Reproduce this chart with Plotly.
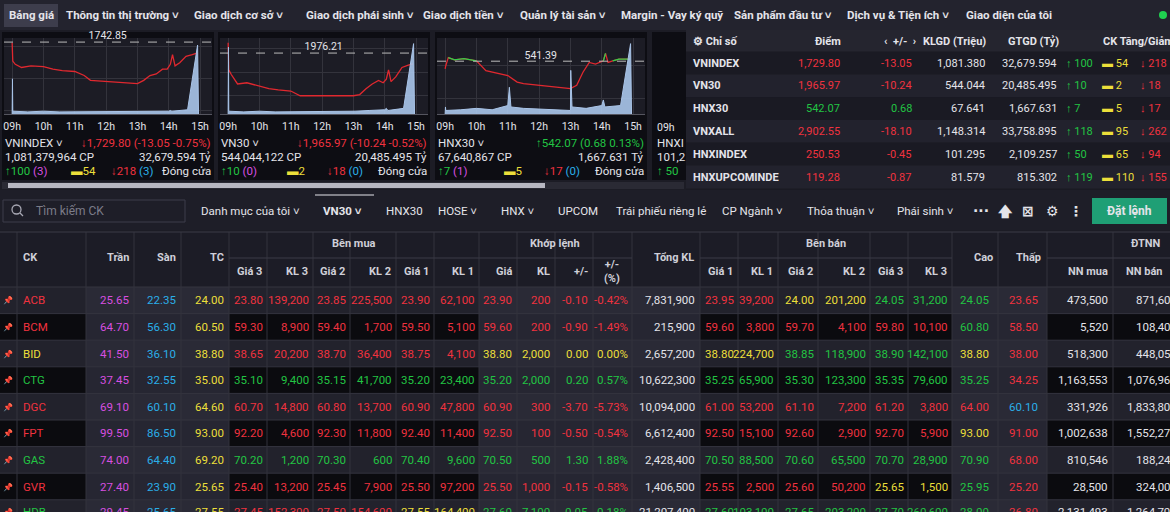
import plotly.graph_objects as go

W, H = 1170, 512

# ---------------- data ----------------
nav_items = ["Bảng giá", "Thông tin thị trường ˅", "Giao dịch cơ sở ˅", "Giao dịch phái sinh ˅",
             "Giao dịch tiền ˅", "Quản lý tài sản ˅", "Margin - Vay ký quỹ", "Sản phẩm đầu tư ˅",
             "Dịch vụ & Tiện ích ˅", "Giao diện của tôi"]

hours = [9, 10, 11, 12, 13, 14, 15]
hour_labels = ["09h", "10h", "11h", "12h", "13h", "14h", "15h"]

t_line = [9.0, 9.02, 9.1, 9.3, 9.6, 10.0, 10.3, 10.6, 11.0, 11.3, 11.5, 13.0, 13.2, 13.4,
          13.6, 13.8, 13.95, 14.05, 14.12, 14.2, 14.35, 14.55, 14.75, 14.9]
vnindex_line = [1742.5, 1731, 1729, 1727, 1728, 1727.5, 1726, 1725, 1724.5, 1722, 1719, 1717,
                1719, 1722, 1723, 1726, 1726, 1729, 1735, 1728, 1730, 1734, 1735, 1736]
vn30_line = [1985, 1962, 1958, 1950, 1951, 1948, 1946, 1945, 1944, 1940, 1940, 1940, 1941,
             1946, 1950, 1953, 1951, 1954, 1962, 1952, 1956, 1964, 1966, 1967]
hnx30_line = [539, 540, 542.5, 541.8, 542.2, 541.5, 538.5, 537.8, 537, 535, 534.5, 533, 534,
              538, 541, 540.5, 541, 541.5, 543.8, 541, 541.5, 542, 542, 542]

t_vol = [9.0, 9.01, 9.02, 9.5, 10.0, 10.5, 11.0, 11.05, 11.1, 11.5, 13.0, 13.01, 13.05, 13.5,
         14.0, 14.05, 14.1, 14.6, 14.92, 14.95]
vnindex_vol = [0, 0.5, 0.04, 0.03, 0.04, 0.03, 0.03, 0.03, 0.03, 0.03, 0.03, 0.03, 0.03, 0.04,
               0.04, 0.05, 0.04, 0.06, 0.98, 0]
vn30_vol = [0, 0.95, 0.04, 0.03, 0.04, 0.03, 0.03, 0.03, 0.03, 0.03, 0.03, 0.04, 0.04, 0.05,
            0.06, 0.08, 0.05, 0.08, 1.0, 0]
hnx30_vol = [0, 0.1, 0.05, 0.06, 0.08, 0.06, 0.12, 0.38, 0.1, 0.08, 0.05, 0.62, 0.1, 0.08,
             0.12, 0.2, 0.1, 0.12, 1.0, 0]

mini_names = ["VNINDEX ˅", "VN30 ˅", "HNX30 ˅"]
mini_refs = [1742.85, 1976.21, 541.39]
mini_ranges = [[1698, 1745.4], [1924.5, 1989], [525.2, 548.5]]
mini_last = ["↓1,729.80 (-13.05 -0.75%)", "↓1,965.97 (-10.24 -0.52%)", "↑542.07 (0.68 0.13%)"]
mini_up = [False, False, True]
mini_cp = ["1,081,379,964 CP", "544,044,122 CP", "67,640,867 CP"]
mini_value = ["32,679.594 Tỷ", "20,485.495 Tỷ", "1,667.631 Tỷ"]
mini_adv = ["100", "10", "7"]
mini_adv_c = ["(3)", "(0)", "(1)"]
mini_unch = ["54", "2", "5"]
mini_dec = ["218", "18", "17"]
mini_dec_f = ["(3)", "(0)", "(0)"]

idx_names = ["VNINDEX", "VN30", "HNX30", "VNXALL", "HNXINDEX", "HNXUPCOMINDE"]
idx_points = ["1,729.80", "1,965.97", "542.07", "2,902.55", "250.53", "119.28"]
idx_chg = [-13.05, -10.24, 0.68, -18.10, -0.45, -0.87]
idx_klgd = ["1,081.380", "544.044", "67.641", "1,148.314", "101.295", "81.579"]
idx_gtgd = ["32,679.594", "20,485.495", "1,667.631", "33,758.895", "2,109.257", "815.302"]
idx_adv = [100, 10, 7, 118, 50, 119]
idx_unch = [54, 2, 5, 95, 65, 110]
idx_dec = [218, 18, 17, 262, 94, 155]

tabs = ["Danh mục của tôi ˅", "VN30 ˅", "HNX30", "HOSE ˅", "HNX ˅", "UPCOM",
        "Trái phiếu riêng lẻ", "CP Ngành ˅", "Thỏa thuận ˅", "Phái sinh ˅"]

symbols = ["ACB", "BCM", "BID", "CTG", "DGC", "FPT", "GAS", "GVR", "HDB"]
ceil_p = [25.65, 64.70, 41.50, 37.45, 69.10, 99.50, 74.00, 27.40, 29.45]
floor_p = [22.35, 56.30, 36.10, 32.55, 60.10, 86.50, 64.40, 23.90, 25.65]
ref_p = [24.00, 60.50, 38.80, 35.00, 64.60, 93.00, 69.20, 25.65, 27.55]
bid3_p = [23.80, 59.30, 38.65, 35.10, 60.70, 92.20, 70.20, 25.40, 27.45]
bid3_v = ["139,200", "8,900", "20,200", "9,400", "14,800", "4,600", "1,200", "13,200", "152,300"]
bid2_p = [23.85, 59.40, 38.70, 35.15, 60.80, 92.30, 70.30, 25.45, 27.50]
bid2_v = ["225,500", "1,700", "36,400", "41,700", "13,700", "11,800", "600", "7,900", "154,600"]
bid1_p = [23.90, 59.50, 38.75, 35.20, 60.90, 92.40, 70.40, 25.50, 27.55]
bid1_v = ["62,100", "5,100", "4,100", "23,400", "47,800", "11,400", "9,600", "97,200", "164,400"]
match_p = [23.90, 59.60, 38.80, 35.20, 60.90, 92.50, 70.50, 25.50, 27.60]
match_v = ["200", "200", "2,000", "2,000", "300", "100", "500", "1,000", "7,100"]
chg = ["-0.10", "-0.90", "0.00", "0.20", "-3.70", "-0.50", "1.30", "-0.15", "0.05"]
pct = ["-0.42%", "-1.49%", "0.00%", "0.57%", "-5.73%", "-0.54%", "1.88%", "-0.58%", "0.18%"]
total_kl = ["7,831,900", "215,900", "2,657,200", "10,622,300", "10,094,000", "6,612,400",
            "2,428,400", "1,406,500", "21,207,400"]
ask1_p = [23.95, 59.60, 38.80, 35.25, 61.00, 92.50, 70.50, 25.55, 27.60]
ask1_v = ["39,200", "3,800", "224,700", "65,900", "53,200", "15,100", "88,500", "2,500", "103,100"]
ask2_p = [24.00, 59.70, 38.85, 35.30, 61.10, 92.60, 70.60, 25.60, 27.65]
ask2_v = ["201,200", "4,100", "118,900", "123,300", "7,200", "2,900", "65,500", "50,200", "203,200"]
ask3_p = [24.05, 59.80, 38.90, 35.35, 61.20, 92.70, 70.70, 25.65, 27.70]
ask3_v = ["31,200", "10,100", "142,100", "79,600", "3,800", "5,900", "28,900", "1,500", "260,600"]
high_p = [24.05, 60.80, 38.80, 35.25, 64.00, 93.00, 70.90, 25.95, 28.00]
low_p = [23.65, 58.50, 38.00, 34.25, 60.10, 91.00, 68.00, 25.20, 26.80]
nn_buy = ["473,500", "5,520", "518,300", "1,163,553", "331,926", "1,002,638", "810,546",
          "28,500", "2,131,493"]
nn_sell = ["871,600", "108,400", "448,050", "1,076,960", "1,833,800", "1,552,270", "188,240",
           "324,000", "1,264,700"]

# ---------------- styles ----------------
RED, GREEN, YEL, PUR, BLUE = "#f0323f", "#22c443", "#ecdf3a", "#d84fe0", "#2aaee8"
WHITE, GREY = "#e4e4ea", "#a8a8b4"
BG, PANEL, ROW_A, ROW_B = "#1c1c25", "#0d0d13", "#22222c", "#0b0b0f"
FONT = "Roboto, sans-serif"
FS = 11.5
XR = [8.74, 15.38]

fig = go.Figure()
shapes, ann = [], []


def rect(x0, y0, x1, y1, fill, line=None, layer="below"):
    shapes.append(dict(type="rect", xref="x", yref="y", x0=x0, y0=y0, x1=x1, y1=y1,
                       fillcolor=fill, line=dict(width=1 if line else 0, color=line or fill),
                       layer=layer))


def vline(x, y0, y1, c="#363644"):
    shapes.append(dict(type="line", xref="x", yref="y", x0=x, x1=x, y0=y0, y1=y1,
                       line=dict(color=c, width=1), layer="below"))


def hline(y, x0, x1, c="#363644"):
    shapes.append(dict(type="line", xref="x", yref="y", x0=x0, x1=x1, y0=y, y1=y,
                       line=dict(color=c, width=1), layer="below"))


def txt(x, y, s, color=WHITE, anchor="right", size=FS, bold=False, family=FONT, xshift=0):
    if bold:
        s = "<b>" + s + "</b>"
    ann.append(dict(x=x, y=min(y, H - 0.5), xref="x", yref="y", text=s, showarrow=False,
                    xanchor=anchor, yanchor="middle", xshift=xshift,
                    font=dict(color=color, size=size, family=family), borderpad=0))


def pcol(p, i):
    if p == ceil_p[i]:
        return PUR
    if p == floor_p[i]:
        return BLUE
    if p == ref_p[i]:
        return YEL
    return GREEN if p > ref_p[i] else RED


# ---------------- top nav ----------------
rect(0, 0, W, 30, "#23232e")
rect(4, 4, 58, 27, "#3d3d4c")
nav_x = [8, 65, 193, 305, 422, 519, 620, 733, 846, 965]
for x, s in zip(nav_x, nav_items):
    txt(x, 15, s, WHITE, "left", 11.5, True)
shapes.append(dict(type="circle", xref="x", yref="y", x0=1159, x1=1167, y0=11, y1=19,
                   fillcolor="#1fd150", line=dict(width=0)))

# ---------------- mini charts ----------------
panel_x = [2, 218, 435, 652]
for px in panel_x:
    rect(px, 32, px + 212, 180, PANEL)
rect(2, 182, 684, 189, "#2a2a34")
rect(8, 183, 545, 188, "#b8b8c2")

lines = [vnindex_line, vn30_line, hnx30_line]
vols = [vnindex_vol, vn30_vol, hnx30_vol]
for k in range(3):
    x0 = panel_x[k] + 2
    x1 = x0 + 208
    dom_x = [x0 / W, x1 / W]
    dom_y = [1 - 114 / H, 1 - 38 / H]
    la, va = k * 2 + 2, k * 2 + 3
    fig.add_trace(go.Scatter(x=t_vol, y=vols[k], mode="lines", fill="tozeroy",
                             line=dict(color="#a9c4e8", width=1), fillcolor="rgba(170,198,235,0.9)",
                             xaxis="x%d" % va, yaxis="y%d" % va, hoverinfo="skip"))
    ref = mini_refs[k]
    fig.add_trace(go.Scatter(x=t_line, y=lines[k], mode="lines", line=dict(color="#e0282f", width=1.3),
                             xaxis="x%d" % la, yaxis="y%d" % la, hoverinfo="skip"))
    greens = [v if v >= ref else None for v in lines[k]]
    fig.add_trace(go.Scatter(x=t_line, y=greens, mode="lines", line=dict(color="#2fd04a", width=1.3),
                             xaxis="x%d" % la, yaxis="y%d" % la, hoverinfo="skip", connectgaps=False))
    fig.add_trace(go.Scatter(x=XR, y=[ref, ref], mode="lines",
                             line=dict(color="#bbbbbb", width=1, dash="dash"),
                             xaxis="x%d" % la, yaxis="y%d" % la, hoverinfo="skip"))
    fig.add_trace(go.Scatter(x=[12.05], y=[ref], mode="text", text=[f"{ref:.2f}"],
                             textposition="top center", textfont=dict(color=WHITE, size=10.5, family=FONT),
                             xaxis="x%d" % la, yaxis="y%d" % la, hoverinfo="skip", cliponaxis=False))
    ax = dict(domain=dom_x, range=XR, tickvals=hours, ticktext=hour_labels,
              showgrid=True, gridcolor="#33333c", zeroline=False, showline=True, linecolor="#55555f",
              tickfont=dict(color=WHITE, size=10.5, family=FONT), ticks="", ticklabelstandoff=2)
    fig.layout["xaxis%d" % la] = dict(ax, anchor="y%d" % la)
    fig.layout["yaxis%d" % la] = dict(domain=dom_y, range=mini_ranges[k], showticklabels=False,
                                       showgrid=True, gridcolor="#33333c", nticks=4, zeroline=False,
                                       anchor="x%d" % la)
    fig.layout["xaxis%d" % va] = dict(domain=dom_x, range=XR, visible=False,
                                       anchor="y%d" % va, overlaying="x%d" % la)
    fig.layout["yaxis%d" % va] = dict(domain=dom_y, range=[0, 1.08], visible=False,
                                       anchor="x%d" % va, overlaying="y%d" % la)
    cc = GREEN if mini_up[k] else RED
    txt(x0, 143, mini_names[k], WHITE, "left", 11.5)
    txt(x1, 143, mini_last[k], cc, "right", 11.5)
    txt(x0, 157, mini_cp[k], WHITE, "left", 11.5)
    txt(x1, 157, mini_value[k], WHITE, "right", 11.5)
    txt(x0, 171, f"<span style='color:{GREEN}'>↑{mini_adv[k]}</span>"
                 f"<span style='color:{PUR}'> {mini_adv_c[k]}</span>", WHITE, "left", 11.5)
    txt(x0 + 66, 171, f"▬{mini_unch[k]}", YEL, "left", 11.5)
    txt(x0 + 106, 171, f"<span style='color:{RED}'>↓{mini_dec[k]}</span>"
                       f"<span style='color:{BLUE}'> {mini_dec_f[k]}</span>", WHITE, "left", 11.5)
    txt(x1, 171, "Đóng cửa", WHITE, "right", 11.5)
# partial 4th panel
txt(656, 127, "09h", WHITE, "left", 10.5)
txt(656, 143, "HNXI", WHITE, "left", 11.5)
txt(656, 157, "101,2", WHITE, "left", 11.5)
txt(656, 171, "↑ 50", GREEN, "left", 11.5)

# ---------------- index table ----------------
rect(686, 30, W, 190, "#1a1a23")
rect(686, 30, W, 52, "#25252f")
IF = 11
txt(692, 41, "⚙ Chỉ số", WHITE, "left", IF, True)
txt(842, 41, "Điểm", WHITE, "right", IF, True)
txt(900, 41, "‹  +/-  ›", WHITE, "center", IF, True)
txt(987, 41, "KLGD (Triệu)", WHITE, "right", IF, True)
txt(1060, 41, "GTGD (Tỷ)", WHITE, "right", IF, True)
txt(1102, 41, "CK Tăng/Giảm", WHITE, "left", IF, True)
for i, name in enumerate(idx_names):
    y = 63 + i * 22.8
    rect(686, y - 11.4, W, y + 11.4, "#22222d" if i % 2 else "#1a1a23")
    c = GREEN if idx_chg[i] > 0 else RED
    txt(692, y, name, WHITE, "left", IF, True)
    txt(841, y, idx_points[i], c, "right", IF)
    txt(913, y, f"{idx_chg[i]:.2f}", c, "right", IF)
    txt(986, y, idx_klgd[i], WHITE, "right", IF)
    txt(1058, y, idx_gtgd[i], WHITE, "right", IF)
    txt(1065, y, f"↑ {idx_adv[i]}", GREEN, "left", IF)
    txt(1101, y, f"▬ {idx_unch[i]}", YEL, "left", IF)
    txt(1139, y, f"↓ {idx_dec[i]}", RED, "left", IF)

# ---------------- tab bar ----------------
rect(0, 190, W, 230, "#1e1e28")
rect(3, 200, 185, 222, "#1e1e28", "#3c3c4a")
shapes.append(dict(type="circle", xref="x", yref="y", x0=12, x1=21, y0=205, y1=214,
                   line=dict(color=GREY, width=1.3)))
shapes.append(dict(type="line", xref="x", yref="y", x0=20, x1=23, y0=213, y1=216,
                   line=dict(color=GREY, width=1.3)))
txt(35, 211, "Tìm kiếm CK", "#7c7c88", "left", 12)
tab_x = [200, 322, 385, 437, 500, 557, 615, 721, 806, 896]
for x, s in zip(tab_x, tabs):
    txt(x, 211, s, WHITE, "left", 11.5, s.startswith("VN30"))
hline(195, 315, 374, WHITE)
for x, s in zip([981, 1005, 1028, 1052, 1076], ["···", "🡅", "⊠", "⚙", "⋮"]):
    txt(x, 211, s, WHITE, "center", 14, True, "DejaVu Sans")
rect(1092, 198, 1167, 224, "#1f9f75")
txt(1129, 211, "Đặt lệnh", WHITE, "center", 12, True)

# ---------------- main table ----------------
edges = [0, 17, 86, 134, 181, 229, 267, 313, 350, 396, 434, 479, 517, 555, 593, 632, 700,
         738, 778, 818, 870, 908, 952, 998, 1047, 1113, 1175]
light_cols = {2, 3, 4, 11, 12, 13, 14, 15, 22, 23}
rect(0, 232, W, 287, "#1c1c26")
row_h = 26.6
for r in range(len(symbols)):
    y0 = 287 + r * row_h
    for c in range(len(edges) - 1):
        if c in light_cols:
            f = "#2a2a36" if r % 2 == 0 else "#262632"
        else:
            f = ROW_A if r % 2 == 0 else ROW_B
        rect(edges[c], y0, edges[c + 1], y0 + row_h, f)
    hline(y0, 0, W, "#34343f")
for e in edges[1:-1]:
    vline(e, 232, H, "#32323d")
hline(258, 229, 632, "#3a3a46")
hline(258, 700, 952, "#3a3a46")
hline(258, 1047, W, "#3a3a46")
hline(232, 0, W, "#3a3a46")

hc = "#cfcfd8"
HF = 11
txt(354, 243, "Bên mua", hc, "center", HF, True)
txt(555, 243, "Khớp lệnh", hc, "center", HF, True)
txt(826, 243, "Bên bán", hc, "center", HF, True)
txt(1146, 243, "ĐTNN", hc, "center", HF, True)
txt(22, 257, "CK", hc, "left", HF, True)
for x, s in zip([130, 177, 225, 695, 994, 1042], ["Trần", "Sàn", "TC", "Tổng KL", "Cao", "Thấp"]):
    txt(x, 257, s, hc, "right", HF, True)
sub = ["Giá 3", "KL 3", "Giá 2", "KL 2", "Giá 1", "KL 1", "Giá", "KL", "+/-"]
for j, s in enumerate(sub):
    txt(edges[5 + j + 1] - 4, 271, s, hc, "right", HF, True)
txt(612, 271, "+/-<br>(%)", hc, "center", HF, True)
sub2 = ["Giá 1", "KL 1", "Giá 2", "KL 2", "Giá 3", "KL 3"]
for j, s in enumerate(sub2):
    txt(edges[16 + j + 1] - 4, 271, s, hc, "right", HF, True)
txt(1109, 271, "NN mua", hc, "right", HF, True)
txt(1125, 271, "NN bán", hc, "left", HF, True)

for i, sym in enumerate(symbols):
    y = 287 + i * row_h + row_h / 2
    mc = pcol(match_p[i], i)
    txt(8, y, "📌", GREY, "center", 8, False, "DejaVu Sans")
    txt(22, y, sym, mc, "left")
    for v, col, e in [(ceil_p[i], PUR, 3), (floor_p[i], BLUE, 4), (ref_p[i], YEL, 5)]:
        txt(edges[e] - 4, y, f"{v:.2f}", col)
    pairs = [(bid3_p, bid3_v, 6), (bid2_p, bid2_v, 8), (bid1_p, bid1_v, 10),
             (ask1_p, ask1_v, 17), (ask2_p, ask2_v, 19), (ask3_p, ask3_v, 21)]
    for pp, vv, e in pairs:
        col = pcol(pp[i], i)
        txt(edges[e] - 3, y, f"{pp[i]:.2f}", col)
        txt(edges[e + 1] - 3, y, vv[i], col)
    txt(edges[12] - 4, y, f"{match_p[i]:.2f}", mc)
    txt(edges[13] - 4, y, match_v[i], mc)
    txt(edges[14] - 4, y, chg[i], mc)
    txt(edges[15] - 3, y, pct[i], mc)
    txt(edges[16] - 4, y, total_kl[i], WHITE)
    txt(edges[23] - 8, y, f"{high_p[i]:.2f}", pcol(high_p[i], i))
    txt(edges[24] - 8, y, f"{low_p[i]:.2f}", pcol(low_p[i], i))
    txt(edges[25] - 4, y, nn_buy[i], WHITE)
    # foreign-sell column runs past the right edge of the window
    txt(1169, y, nn_sell[i], WHITE, "right", FS, False, FONT, xshift=9)

fig.update_layout(
    width=W, height=H, margin=dict(l=0, r=0, t=0, b=0),
    paper_bgcolor=BG, plot_bgcolor=BG, showlegend=False,
    xaxis=dict(range=[0, W], visible=False, domain=[0, 1], fixedrange=True),
    yaxis=dict(range=[H, 0], visible=False, domain=[0, 1], fixedrange=True),
    shapes=shapes, annotations=ann,
)
fig.write_html("out.html", config={"displayModeBar": False},
               post_script="document.body.style.margin='0';document.body.style.background='#1c1c25';")
